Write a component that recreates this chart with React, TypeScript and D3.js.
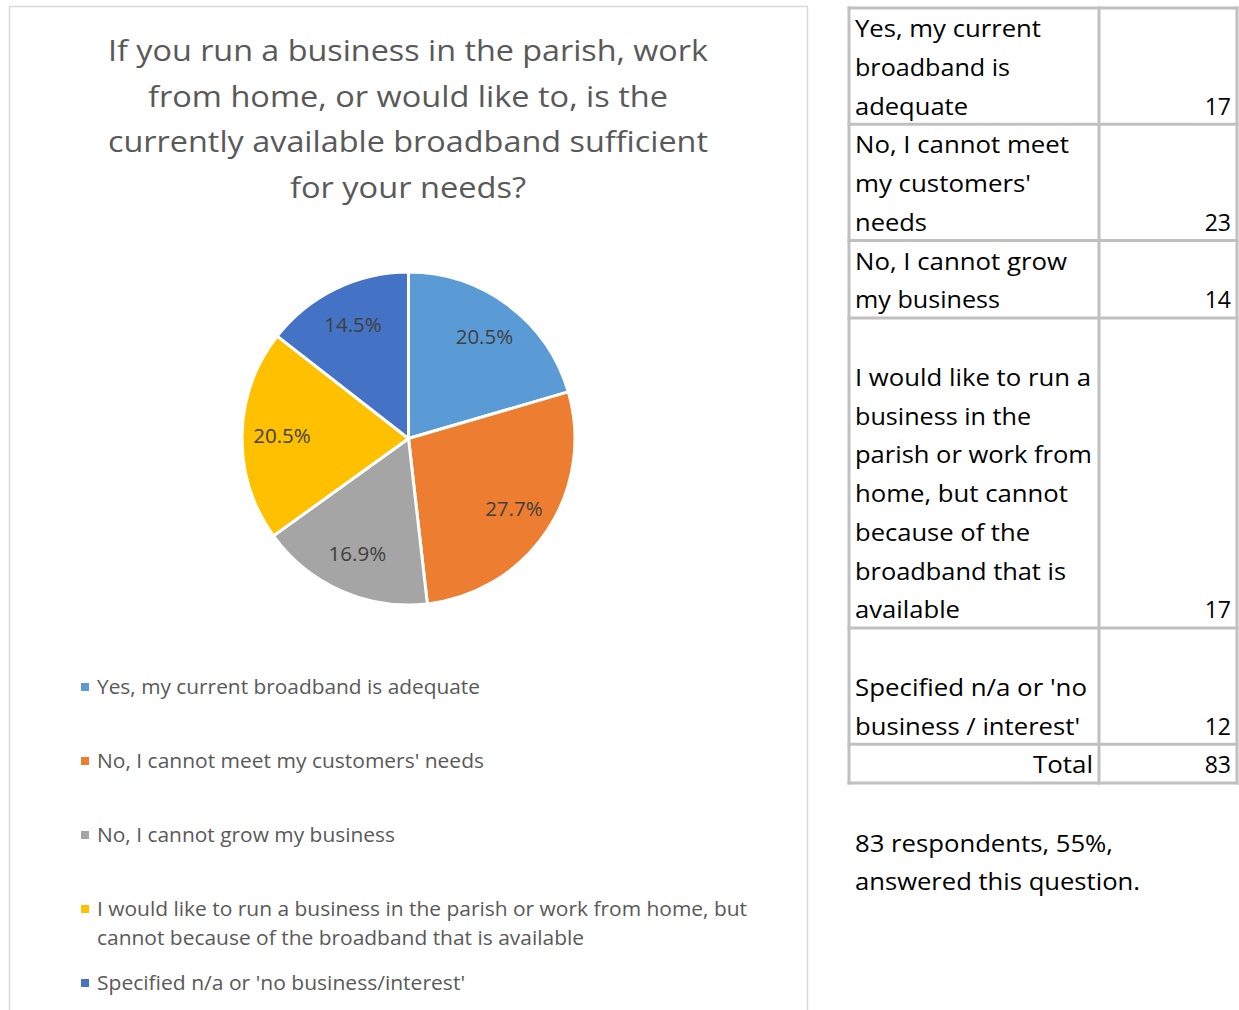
import React from "react";
import * as d3 from "d3";

// ---------- data ----------
const categories = [
  "Yes, my current broadband is adequate",
  "No, I cannot meet my customers' needs",
  "No, I cannot grow my business",
  "I would like to run a business in the parish or work from home, but cannot because of the broadband that is available",
  "Specified n/a or 'no business/interest'",
];
const counts = [17, 23, 14, 17, 12];
const sliceColors = ["#5B9BD5", "#ED7D31", "#A5A5A5", "#FFC000", "#4472C4"];
const titleLines = [
  "If you run a business in the parish, work",
  "from home, or would like to, is the",
  "currently available broadband sufficient",
  "for your needs?",
];
const legendLines = [
  ["Yes, my current broadband is adequate"],
  ["No, I cannot meet my customers' needs"],
  ["No, I cannot grow my business"],
  ["I would like to run a business in the parish or work from home, but", "cannot because of the broadband that is available"],
  ["Specified n/a or 'no business/interest'"],
];
const tableLines = [
  ["Yes, my current", "broadband is", "adequate"],
  ["No, I cannot meet", "my customers'", "needs"],
  ["No, I cannot grow", "my business"],
  ["", "I would like to run a", "business in the", "parish or work from", "home, but cannot", "because of the", "broadband that is", "available"],
  ["", "Specified n/a or 'no", "business / interest'"],
];
const totalLabel = "Total";
const footnoteLines = ["83 respondents, 55%,", "answered this question."];

// ---------- layout ----------
const FONT = "'Open Sans', 'Noto Sans', sans-serif";
const titleWidths = [600, 520, 600, 236];
const titleBaselines = [61, 107, 152, 198];
const legendWidths = [[383], [387], [298], [650, 487], [368]];
const legendCenters = [687, 761, 835, 909, 983];
const tableWidths = [
  [186, 155, 113],
  [214, 176, 72],
  [212, 145],
  [0, 236, 176, 237, 213, 175, 211, 105],
  [0, 232, 225],
];
const footWidths = [258, 285];

export default function App() {
  const cx = 408.5;
  const cy = 438.5;
  const R = 166.5;
  const total = d3.sum(counts);
  const pie = d3.pie<number>().sort(null).value((d) => d);
  const arcs = pie(counts);
  const arc = d3.arc<d3.PieArcDatum<number>>().innerRadius(0).outerRadius(R);
  const labelArc = d3.arc<d3.PieArcDatum<number>>().innerRadius(R * 0.76).outerRadius(R * 0.76);
  const pct = d3.format(".1%");

  // table geometry
  const lineH = 38.75;
  const tableTop = 8;
  const rowTops: number[] = [];
  let y = tableTop;
  tableLines.forEach((rows) => {
    rowTops.push(y);
    y += rows.length * lineH;
  });
  const totalTop = y;
  const tableBottom = y + lineH;
  const colX = [849, 1099, 1237];
  const hLines = [...rowTops, totalTop, tableBottom];

  return (
    <svg
      width={1239}
      height={1010}
      style={{ position: "absolute", left: 0, top: 0, background: "#fff" }}
      fontFamily={FONT}
    >
      {/* chart frame */}
      <rect x={9.5} y={6.5} width={798} height={1030} fill="#fff" stroke="#D9D9D9" strokeWidth={1.5} />

      {/* title */}
      {titleLines.map((t, i) => (
        <text
          key={i}
          x={408}
          y={titleBaselines[i]}
          textAnchor="middle"
          fontSize={30}
          fill="#595959"
          textLength={titleWidths[i]}
          lengthAdjust="spacingAndGlyphs"
        >
          {t}
        </text>
      ))}

      {/* pie */}
      <g transform={`translate(${cx},${cy})`}>
        {arcs.map((a, i) => (
          <path key={i} d={arc(a) || ""} fill={sliceColors[i]} stroke="#fff" strokeWidth={3} strokeLinejoin="round" />
        ))}
        {arcs.map((a, i) => {
          const [lx, ly] = labelArc.centroid(a);
          return (
            <text key={i} x={lx} y={ly} dy="0.35em" textAnchor="middle" fontSize={20.5} fill="#404040">
              {pct(a.data / total)}
            </text>
          );
        })}
      </g>

      {/* legend */}
      {categories.map((c, i) => (
        <g key={i}>
          <rect x={81} y={legendCenters[i] - 4} width={8} height={8} fill={sliceColors[i]} />
          {legendLines[i].map((l, j) => (
            <text
              key={j}
              x={97}
              y={legendCenters[i] + 7 + j * 29}
              fontSize={19.5}
              fill="#595959"
              textLength={legendWidths[i][j]}
              lengthAdjust="spacingAndGlyphs"
            >
              {l}
            </text>
          ))}
        </g>
      ))}

      {/* table */}
      <g>
        {hLines.map((hy, i) => (
          <line key={"h" + i} x1={colX[0] - 1.5} x2={colX[2] + 1.5} y1={hy} y2={hy} stroke="#C0C0C0" strokeWidth={3} />
        ))}
        {colX.map((vx, i) => (
          <line key={"v" + i} x1={vx} x2={vx} y1={tableTop - 1.5} y2={tableBottom + 1.5} stroke="#C0C0C0" strokeWidth={3} />
        ))}
        {tableLines.map((rows, r) => (
          <g key={r}>
            {rows.map((l, j) =>
              l ? (
                <text
                  key={j}
                  x={855}
                  y={rowTops[r] + 29 + j * lineH}
                  fontSize={23}
                  fill="#000"
                  textLength={tableWidths[r][j]}
                  lengthAdjust="spacingAndGlyphs"
                >
                  {l}
                </text>
              ) : null
            )}
            <text x={1231} y={rowTops[r] + 29 + (rows.length - 1) * lineH} fontSize={23} textAnchor="end" fill="#000">
              {counts[r]}
            </text>
          </g>
        ))}
        <text x={1093} y={totalTop + 29} fontSize={23} textAnchor="end" fill="#000" textLength={60} lengthAdjust="spacingAndGlyphs">
          {totalLabel}
        </text>
        <text x={1231} y={totalTop + 29} fontSize={23} textAnchor="end" fill="#000">
          {total}
        </text>
      </g>

      {/* footnote */}
      {footnoteLines.map((l, i) => (
        <text
          key={i}
          x={855}
          y={852 + i * 38}
          fontSize={23}
          fill="#000"
          textLength={footWidths[i]}
          lengthAdjust="spacingAndGlyphs"
        >
          {l}
        </text>
      ))}
    </svg>
  );
}
